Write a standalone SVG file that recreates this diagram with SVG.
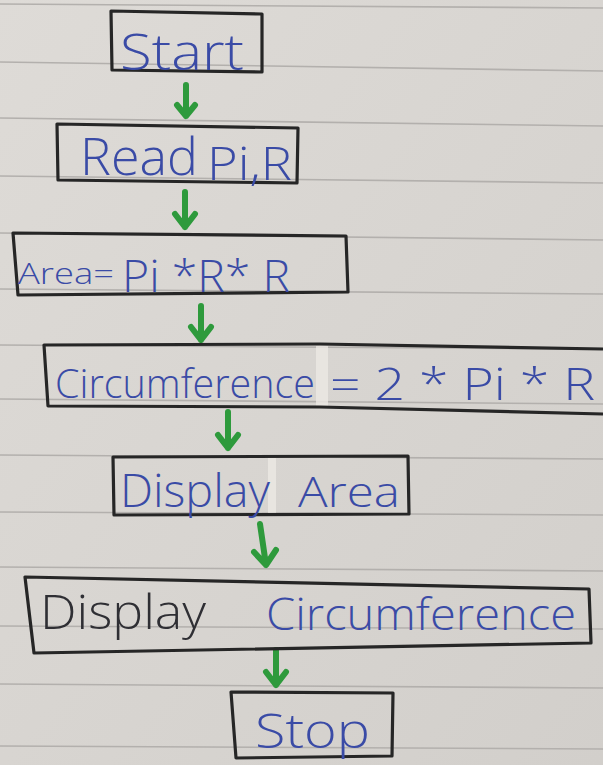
<svg xmlns="http://www.w3.org/2000/svg" width="603" height="765" viewBox="0 0 603 765">
<defs>
<linearGradient id="paper" x1="0" y1="0" x2="1" y2="1">
<stop offset="0" stop-color="#dedbd7"/>
<stop offset="1" stop-color="#d2cfcb"/>
</linearGradient>
</defs>
<style>
.rule{stroke:#b3b0ad;stroke-width:1.6;fill:none}
.box{fill:none;stroke:#262626;stroke-width:3.2;stroke-linejoin:round}
.t{font-family:"Open Sans","Liberation Sans","DejaVu Sans",sans-serif;font-weight:300;fill:#3a4ba6}
.k{fill:#2f2f34}
.arr{fill:none;stroke:#2e9a3c;stroke-width:6;stroke-linecap:round;stroke-linejoin:round}
.patch{fill:#ece9e3;opacity:0.8}
</style>
<rect width="603" height="765" fill="url(#paper)"/>
<g id="ruling">
<line class="rule" x1="0" y1="4" x2="603" y2="8"/>
<line class="rule" x1="0" y1="62" x2="603" y2="71"/>
<line class="rule" x1="0" y1="118" x2="603" y2="126"/>
<line class="rule" x1="0" y1="176" x2="603" y2="183"/>
<line class="rule" x1="0" y1="233" x2="603" y2="240"/>
<line class="rule" x1="0" y1="289" x2="603" y2="294"/>
<line class="rule" x1="0" y1="345" x2="603" y2="349"/>
<line class="rule" x1="0" y1="399" x2="603" y2="404"/>
<line class="rule" x1="0" y1="455" x2="603" y2="459"/>
<line class="rule" x1="0" y1="512" x2="603" y2="515"/>
<line class="rule" x1="0" y1="567" x2="603" y2="571"/>
<line class="rule" x1="0" y1="626" x2="603" y2="629"/>
<line class="rule" x1="0" y1="684" x2="603" y2="688"/>
<line class="rule" x1="0" y1="746" x2="603" y2="749"/>
</g>
<g id="connectors">
<path class="arr" d="M186,85 L186,116 M177,105 L186,116 L195,105"/>
<path class="arr" d="M185,192 L185,227 M175,214 L185,227 L195,214"/>
<path class="arr" d="M201,306 L201,340 M191,327 L201,340 L211,327"/>
<path class="arr" d="M228,412 L228,448 M218,435 L228,448 L238,435"/>
<path class="arr" d="M260,524 L266,565 M254,552 L266,565 L276,550"/>
<path class="arr" d="M276,650 L276,685 M266,672 L276,685 L286,672"/>
</g>
<g id="start">
<path class="box" d="M111,11 L262,14 L262,72 L112,70 Z"/>
<text class="t" x="120" y="70" font-size="50" textLength="124" lengthAdjust="spacingAndGlyphs">Start</text>
</g>
<g id="read">
<path class="box" d="M57,124 L298,128 L297,183 L58,180 Z"/>
<text class="t" x="80" y="175" font-size="52" textLength="118" lengthAdjust="spacingAndGlyphs">Read</text>
<text class="t" x="207" y="180" font-size="46" textLength="85" lengthAdjust="spacingAndGlyphs">Pi,R</text>
</g>
<g id="area">
<path class="box" d="M13,233 L346,236 L348,292 L18,295 Z"/>
<text class="t" x="18" y="284" font-size="30" textLength="96" lengthAdjust="spacingAndGlyphs">Area=</text>
<text class="t" x="122" y="292" font-size="44" textLength="168" lengthAdjust="spacingAndGlyphs">Pi *R* R</text>
</g>
<g id="circumference">
<rect class="patch" x="316" y="346" width="12" height="62"/>
<path class="box" d="M603,349 L320,344 L44,345 L48,406 L320,407 L603,414"/>
<text class="t" x="55" y="398" font-size="40" textLength="260" lengthAdjust="spacingAndGlyphs">Circumference</text>
<text class="t" x="330" y="400" font-size="44" textLength="265" lengthAdjust="spacingAndGlyphs">= 2 * Pi * R</text>
</g>
<g id="display-area">
<rect class="patch" x="268" y="458" width="8" height="56"/>
<path class="box" d="M113,457 L408,456 L409,514 L114,515 Z"/>
<text class="t" x="120" y="507" font-size="46" textLength="150" lengthAdjust="spacingAndGlyphs">Display</text>
<text class="t" x="298" y="507" font-size="42" textLength="102" lengthAdjust="spacingAndGlyphs">Area</text>
</g>
<g id="display-circumference">
<path class="box" d="M25,577 L589,589 L591,643 L34,653 Z"/>
<text class="t k" x="40" y="629" font-size="48" textLength="166" lengthAdjust="spacingAndGlyphs">Display</text>
<text class="t" x="266" y="630" font-size="44" textLength="310" lengthAdjust="spacingAndGlyphs">Circumference</text>
</g>
<g id="stop">
<path class="box" d="M231,692 L393,693 L392,756 L236,758 Z"/>
<text class="t" x="255" y="748" font-size="48" textLength="115" lengthAdjust="spacingAndGlyphs">Stop</text>
</g>
</svg>
